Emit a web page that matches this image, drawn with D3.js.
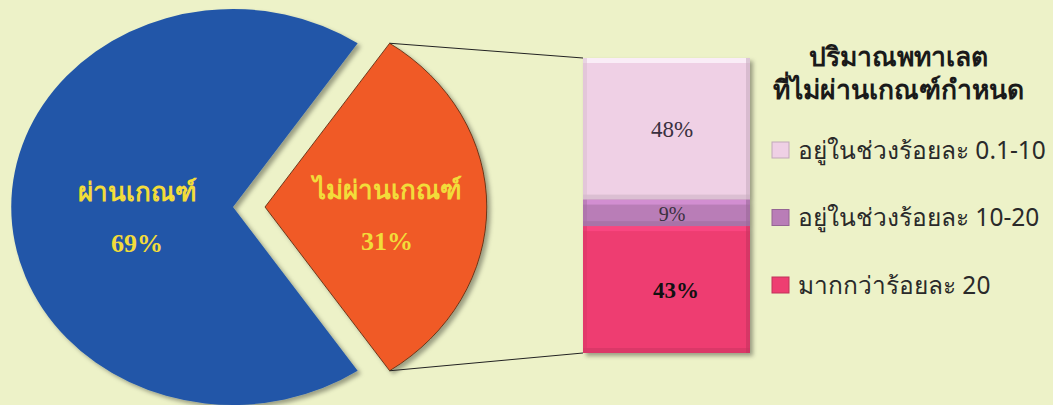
<!DOCTYPE html>
<html>
<head>
<meta charset="utf-8">
<script src="https://cdn.jsdelivr.net/npm/d3@7"></script>
<style>
  body { margin: 0; background: #EDF2C8; }
  svg { display: block; }
</style>
</head>
<body>
<div id="chart"></div>
<script>
// pie data
const pieLabels = ["ผ่านเกณฑ์", "ไม่ผ่านเกณฑ์"];
const pieValues = [69, 31];
const pieColors = ["#2257A8", "#F05A28"];

// bar (breakdown of the 31%)
const barLabels = ["อยู่ในช่วงร้อยละ 0.1-10", "อยู่ในช่วงร้อยละ 10-20", "มากกว่าร้อยละ 20"];
const barValues = [48, 9, 43];
const barColors = ["#EFD0E5", "#B97DB7", "#EE3E71"];

const legendTitle = ["ปริมาณพทาเลต", "ที่ไม่ผ่านเกณฑ์กำหนด"];

const width = 1053, height = 405;
const thaiSerif = "'Liberation Serif', 'DejaVu Serif', serif";
const thaiSans = "'Noto Sans', 'DejaVu Sans', sans-serif";

let svg = d3.select("#chart")
  .append("svg")
  .attr("width", width)
  .attr("height", height);

svg.append("rect")
  .attr("width", width).attr("height", height)
  .attr("fill", "#EDF2C8");

let defs = svg.append("defs");
let shadow = defs.append("filter").attr("id", "shadow")
  .attr("x", "-10%").attr("y", "-10%").attr("width", "130%").attr("height", "130%");
shadow.append("feDropShadow")
  .attr("dx", 3).attr("dy", 3).attr("stdDeviation", 2)
  .attr("flood-color", "#000").attr("flood-opacity", 0.35);

// pie is drawn squashed a bit (wider than tall) like the original
const cx = 233, cy = 207, r = 198, sx = 1.12;
const explode = 32;

let pie = d3.pie().sort(null)
  .startAngle(0.81 * Math.PI)
  .endAngle(2.81 * Math.PI);
let arcs = pie(pieValues);
let arc = d3.arc().innerRadius(0).outerRadius(r);

function offsetOf(d, i) {
  if (i === 0) return [0, 0];
  let mid = (d.startAngle + d.endAngle) / 2;
  return [Math.sin(mid) * explode / sx, -Math.cos(mid) * explode];
}

let pieG = svg.append("g")
  .attr("transform", "translate(" + cx + "," + cy + ") scale(" + sx + ",1)");

pieG.selectAll("path")
  .data(arcs)
  .join("path")
  .attr("transform", (d, i) => "translate(" + offsetOf(d, i) + ")")
  .attr("d", arc)
  .attr("fill", (d, i) => pieColors[i])
  .attr("stroke", (d, i) => i === 1 ? "#5a2a10" : "none")
  .attr("stroke-width", 0.8)
  .attr("filter", "url(#shadow)");

// slice labels
let labelPos = [[137, 192], [387, 190]];
arcs.forEach(function(d, i) {
  let g = svg.append("g").attr("transform", "translate(" + labelPos[i] + ")");
  g.append("text")
    .attr("text-anchor", "middle")
    .attr("dy", "0.35em")
    .attr("font-family", thaiSerif)
    .attr("font-weight", "bold")
    .attr("font-size", 26)
    .attr("fill", "#F2DC3A")
    .text(pieLabels[i]);
  g.append("text")
    .attr("text-anchor", "middle")
    .attr("y", 51)
    .attr("dy", "0.35em")
    .attr("font-family", thaiSerif)
    .attr("font-weight", "bold")
    .attr("font-size", 26)
    .attr("fill", "#F2DC3A")
    .text(pieValues[i] + "%");
});

// stacked bar
const barX = 583, barW = 167;
let yScale = d3.scaleLinear().domain([0, d3.sum(barValues)]).range([58, 353]);
let cum = 0;
let segs = barValues.map(function(v, i) {
  let s = {i: i, v: v, y0: cum, y1: cum + v};
  cum += v;
  return s;
});

// connector lines from the exploded slice to the bar
let o = offsetOf(arcs[1], 1);
[arcs[1].startAngle, arcs[1].endAngle].forEach(function(a, k) {
  let px = cx + (Math.sin(a) * r + o[0]) * sx;
  let py = cy - Math.cos(a) * r + o[1];
  let by = k === 0 ? yScale(0) : yScale(d3.sum(barValues));
  svg.append("line")
    .attr("x1", px).attr("y1", py)
    .attr("x2", barX).attr("y2", by)
    .attr("stroke", "#222").attr("stroke-width", 1);
});

let barG = svg.append("g").attr("filter", "url(#shadow)");
barG.selectAll("rect.seg")
  .data(segs)
  .join("rect")
  .attr("class", "seg")
  .attr("x", barX)
  .attr("y", d => yScale(d.y0))
  .attr("width", barW)
  .attr("height", d => yScale(d.y1) - yScale(d.y0))
  .attr("fill", d => barColors[d.i]);

// bevel edges
segs.forEach(function(d) {
  let y0 = yScale(d.y0), y1 = yScale(d.y1);
  let c = d3.color(barColors[d.i]);
  let b = Math.min(5, (y1 - y0) / 4);
  svg.append("rect").attr("x", barX).attr("y", y0).attr("width", barW).attr("height", b)
    .attr("fill", c.brighter(0.5)).attr("opacity", 0.7);
  svg.append("rect").attr("x", barX).attr("y", y1 - b).attr("width", barW).attr("height", b)
    .attr("fill", c.darker(0.5)).attr("opacity", 0.5);
  svg.append("rect").attr("x", barX).attr("y", y0).attr("width", 4).attr("height", y1 - y0)
    .attr("fill", c.darker(0.3)).attr("opacity", 0.5);
  svg.append("rect").attr("x", barX + barW - 4).attr("y", y0).attr("width", 4).attr("height", y1 - y0)
    .attr("fill", c.darker(0.5)).attr("opacity", 0.6);
});

svg.selectAll("text.barval")
  .data(segs)
  .join("text")
  .attr("class", "barval")
  .attr("x", d => d.i === 2 ? barX + 93 : barX + 89)
  .attr("y", d => (yScale(d.y0) + yScale(d.y1)) / 2 + (d.i === 1 ? 1 : 0))
  .attr("dy", "0.35em")
  .attr("text-anchor", "middle")
  .attr("font-family", thaiSerif)
  .attr("font-size", d => d.i === 1 ? 20 : 23)
  .attr("font-weight", d => d.i === 2 ? "bold" : "normal")
  .attr("fill", d => d.i === 2 ? "#111" : "#3a3040")
  .text(d => d.v + "%");

// legend
let legend = svg.append("g");
legend.selectAll("text.title")
  .data(legendTitle)
  .join("text")
  .attr("class", "title")
  .attr("x", 898)
  .attr("y", (d, i) => 57 + i * 33)
  .attr("dy", "0.35em")
  .attr("text-anchor", "middle")
  .attr("font-family", thaiSans)
  .attr("font-weight", "bold")
  .attr("font-size", 26.5)
  .attr("fill", "#1a1a1a")
  .text(d => d);

let items = legend.selectAll("g.item")
  .data(barLabels)
  .join("g")
  .attr("class", "item")
  .attr("transform", (d, i) => "translate(772," + (150 + i * 67.5) + ")");
items.append("rect")
  .attr("x", 0).attr("y", -8)
  .attr("width", 17).attr("height", 16)
  .attr("fill", (d, i) => barColors[i])
  .attr("stroke", (d, i) => d3.color(barColors[i]).darker(0.6))
  .attr("stroke-width", 1);
items.append("text")
  .attr("x", 26)
  .attr("dy", "0.35em")
  .attr("font-family", thaiSans)
  .attr("font-size", 24.5)
  .attr("fill", "#2a2a2a")
  .text(d => d);
</script>
</body>
</html>
